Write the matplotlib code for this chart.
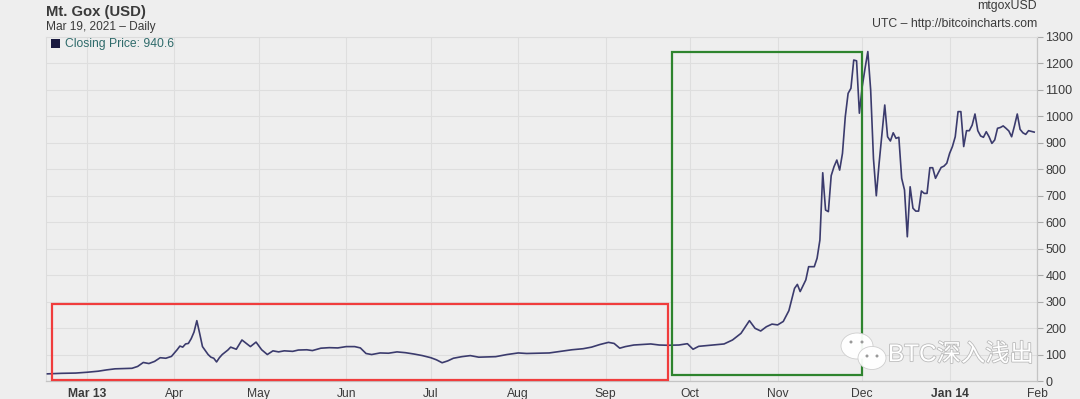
import matplotlib
matplotlib.use('Agg')
import numpy as np
import pandas as pd
import matplotlib.pyplot as plt
import matplotlib.dates as mdates
from matplotlib.patches import Rectangle, Ellipse
import matplotlib.patheffects as pe

plt.rcParams['font.family'] = ['Liberation Sans', 'Noto Sans CJK SC', 'DejaVu Sans']

# closing price, mtgoxUSD daily
dates = [
    '2013-02-15', '2013-02-20', '2013-02-25', '2013-03-01', '2013-03-05', '2013-03-08',
    '2013-03-11', '2013-03-14', '2013-03-17', '2013-03-19', '2013-03-21', '2013-03-23',
    '2013-03-25', '2013-03-27', '2013-03-29', '2013-03-31', '2013-04-02', '2013-04-03',
    '2013-04-04', '2013-04-05', '2013-04-06', '2013-04-07', '2013-04-08', '2013-04-09',
    '2013-04-10', '2013-04-11', '2013-04-12', '2013-04-13', '2013-04-14', '2013-04-15',
    '2013-04-16', '2013-04-17', '2013-04-18', '2013-04-20', '2013-04-21', '2013-04-23',
    '2013-04-25', '2013-04-27', '2013-04-28', '2013-04-30', '2013-05-02', '2013-05-04',
    '2013-05-06', '2013-05-08', '2013-05-10', '2013-05-13', '2013-05-15', '2013-05-18',
    '2013-05-20', '2013-05-23', '2013-05-26', '2013-05-29', '2013-06-01', '2013-06-04',
    '2013-06-06', '2013-06-08', '2013-06-10', '2013-06-13', '2013-06-16', '2013-06-19',
    '2013-06-22', '2013-06-25', '2013-06-28', '2013-07-01', '2013-07-03', '2013-07-05',
    '2013-07-07', '2013-07-09', '2013-07-12', '2013-07-15', '2013-07-18', '2013-07-21',
    '2013-07-24', '2013-07-28', '2013-08-01', '2013-08-04', '2013-08-08', '2013-08-12',
    '2013-08-16', '2013-08-20', '2013-08-24', '2013-08-27', '2013-08-30', '2013-09-02',
    '2013-09-04', '2013-09-06', '2013-09-08', '2013-09-11', '2013-09-14', '2013-09-17',
    '2013-09-20', '2013-09-23', '2013-09-27', '2013-09-30', '2013-10-02', '2013-10-04',
    '2013-10-07', '2013-10-10', '2013-10-13', '2013-10-16', '2013-10-19', '2013-10-22',
    '2013-10-24', '2013-10-26', '2013-10-28', '2013-10-30', '2013-11-01', '2013-11-03',
    '2013-11-05', '2013-11-07', '2013-11-08', '2013-11-09', '2013-11-11', '2013-11-12',
    '2013-11-14', '2013-11-15', '2013-11-16', '2013-11-17', '2013-11-18', '2013-11-19',
    '2013-11-20', '2013-11-21', '2013-11-22', '2013-11-23', '2013-11-24', '2013-11-25',
    '2013-11-26', '2013-11-27', '2013-11-28', '2013-11-29', '2013-11-30', '2013-12-01',
    '2013-12-02', '2013-12-03', '2013-12-04', '2013-12-05', '2013-12-06', '2013-12-07',
    '2013-12-09', '2013-12-10', '2013-12-11', '2013-12-12', '2013-12-13', '2013-12-14',
    '2013-12-15', '2013-12-16', '2013-12-17', '2013-12-18', '2013-12-19', '2013-12-20',
    '2013-12-21', '2013-12-22', '2013-12-23', '2013-12-24', '2013-12-25', '2013-12-26',
    '2013-12-27', '2013-12-28', '2013-12-29', '2013-12-30', '2013-12-31', '2014-01-01',
    '2014-01-02', '2014-01-03', '2014-01-04', '2014-01-05', '2014-01-06', '2014-01-07',
    '2014-01-08', '2014-01-09', '2014-01-10', '2014-01-11', '2014-01-12', '2014-01-13',
    '2014-01-14', '2014-01-15', '2014-01-16', '2014-01-17', '2014-01-18', '2014-01-19',
    '2014-01-20', '2014-01-21', '2014-01-22', '2014-01-23', '2014-01-24', '2014-01-25',
    '2014-01-26', '2014-01-27', '2014-01-28', '2014-01-29', '2014-01-31',
]
close = [
    27, 29, 30, 33, 37, 42,
    46, 47, 48, 55, 70, 66,
    74, 88, 86, 93, 118, 132,
    128, 140, 142, 160, 185, 228,
    180, 130, 115, 100, 90, 86,
    72, 88, 100, 117, 128, 120,
    155, 138, 130, 147, 118, 100,
    114, 110, 114, 112, 117, 118,
    115, 124, 126, 125, 130, 130,
    125, 104, 100, 106, 105, 110,
    107, 102, 96, 88, 80, 69,
    76, 86, 92, 96, 90, 91,
    92, 100, 106, 104, 105, 106,
    112, 118, 122, 128, 138, 146,
    142, 124, 130, 136, 138, 140,
    136, 135, 136, 141, 120, 131,
    134, 137, 140, 155, 180, 228,
    199, 189, 205, 215, 212, 225,
    266, 350, 365, 338, 382, 432,
    432, 464, 533, 787, 646, 640,
    776, 810, 835, 797, 860, 999,
    1087, 1106, 1213, 1210, 1012, 1112,
    1181, 1245, 1100, 840, 700, 823,
    1043, 923, 907, 938, 917, 921,
    766, 722, 545, 734, 653, 642,
    642, 718, 709, 709, 806, 806,
    766, 787, 807, 812, 823, 860,
    886, 923, 1018, 1018, 886, 946,
    946, 967, 1009, 946, 926, 921,
    942, 923, 898, 911, 955, 958,
    964, 955, 945, 923, 964, 1009,
    951, 938, 932, 946, 940.6,
]

months = pd.date_range('2013-03-01', '2014-02-01', freq='MS')
month_labels = ['Mar 13', 'Apr', 'May', 'Jun', 'Jul', 'Aug', 'Sep', 'Oct', 'Nov', 'Dec', 'Jan 14', 'Feb']
yticks = list(range(0, 1301, 100))

# highlight boxes drawn over the chart
red_box = ('2013-02-16 14:00', '2013-09-23', 2, 290)
green_box = ('2013-09-24 14:00', '2013-11-30 20:00', 24, 1243)

bg = '#eeeeee'
line_col = '#3b3b6d'
txt_col = '#3a3a3a'

fig = plt.figure(figsize=(10.8, 3.99), dpi=100, facecolor=bg)
ax = fig.add_axes([46/1080, 18/399, (1037-46)/1080, (381-37)/399])
ax.set_facecolor(bg)

x = pd.to_datetime(dates)
ax.plot(x, close, color=line_col, lw=1.2, zorder=3)

ax.set_xlim(pd.Timestamp('2013-02-14 12:00'), pd.Timestamp('2014-02-01'))
ax.set_ylim(0, 1300)

ax.set_xticks(months)
ax.set_xticklabels(month_labels)
for lbl, name in zip(ax.get_xticklabels(), month_labels):
    if ' ' in name:
        lbl.set_fontweight('bold')
ax.yaxis.tick_right()
ax.set_yticks(yticks)
ax.tick_params(axis='x', length=0, pad=5, labelsize=8.7, labelcolor=txt_col)
ax.tick_params(axis='y', length=4, width=0.8, color='#aaaaaa', pad=2, labelsize=9, labelcolor=txt_col)
for lbl in ax.get_yticklabels():
    lbl.set_horizontalalignment('left')

ax.grid(True, color='#dedede', lw=0.8, zorder=0)
for s in ['top', 'left']:
    ax.spines[s].set_color('#dcdcdc')
    ax.spines[s].set_linewidth(0.8)
for s in ['right', 'bottom']:
    ax.spines[s].set_color('#c4c4c4')
    ax.spines[s].set_linewidth(0.9)

for (x0, x1, y0, y1), col in [(red_box, '#f03c3c'), (green_box, '#2e842e')]:
    t0 = mdates.date2num(pd.Timestamp(x0))
    t1 = mdates.date2num(pd.Timestamp(x1))
    ax.add_patch(Rectangle((t0, y0), t1 - t0, y1 - y0, fill=False, edgecolor=col,
                           lw=1.6, zorder=5, clip_on=False))

# header
fig.text(46/1080, 1 - 12/399, 'Mt. Gox (USD)', fontsize=10.7, fontweight='bold', color=txt_col, va='center')
fig.text(46/1080, 1 - 27/399, 'Mar 19, 2021 \u2013 Daily', fontsize=8.6, color=txt_col, va='center')
fig.text(1037/1080, 1 - 6/399, 'mtgoxUSD', fontsize=8.8, color=txt_col, va='center', ha='right')
fig.text(1037/1080, 1 - 24/399, 'UTC \u2013 http://bitcoincharts.com', fontsize=8.8, color=txt_col, va='center', ha='right')

# legend
fig.patches.append(Rectangle((51/1080, 1 - 48/399), 9/1080, 9/399, transform=fig.transFigure,
                             facecolor='#1a1a40', edgecolor='none', figure=fig))
fig.text(65/1080, 1 - 44/399, 'Closing Price: 940.6', fontsize=8.7, color='#2f6b6b', va='center')

# watermark
for cx, cy, w, h in [(857, 346, 32, 26), (872, 358, 28, 23)]:
    fig.patches.append(Ellipse((cx/1080, 1 - cy/399), w/1080, h/399, transform=fig.transFigure,
                               facecolor='white', edgecolor='#cccccc', lw=0.6, alpha=0.95,
                               figure=fig, zorder=10))
for dx, dy in [(851, 342), (862, 342), (867, 356), (877, 356)]:
    fig.patches.append(Ellipse((dx/1080, 1 - dy/399), 3/1080, 3/399, transform=fig.transFigure,
                               facecolor='#999999', edgecolor='none', figure=fig, zorder=11))
fig.text(888/1080, 1 - 355/399, 'BTC深入浅出', fontsize=17.5, color='white', va='center',
         family=['Liberation Sans', 'Noto Sans CJK SC'], zorder=12,
         path_effects=[pe.withStroke(linewidth=1.2, foreground='#bbbbbb')])

fig.savefig('out.png', dpi=100, facecolor=bg)
